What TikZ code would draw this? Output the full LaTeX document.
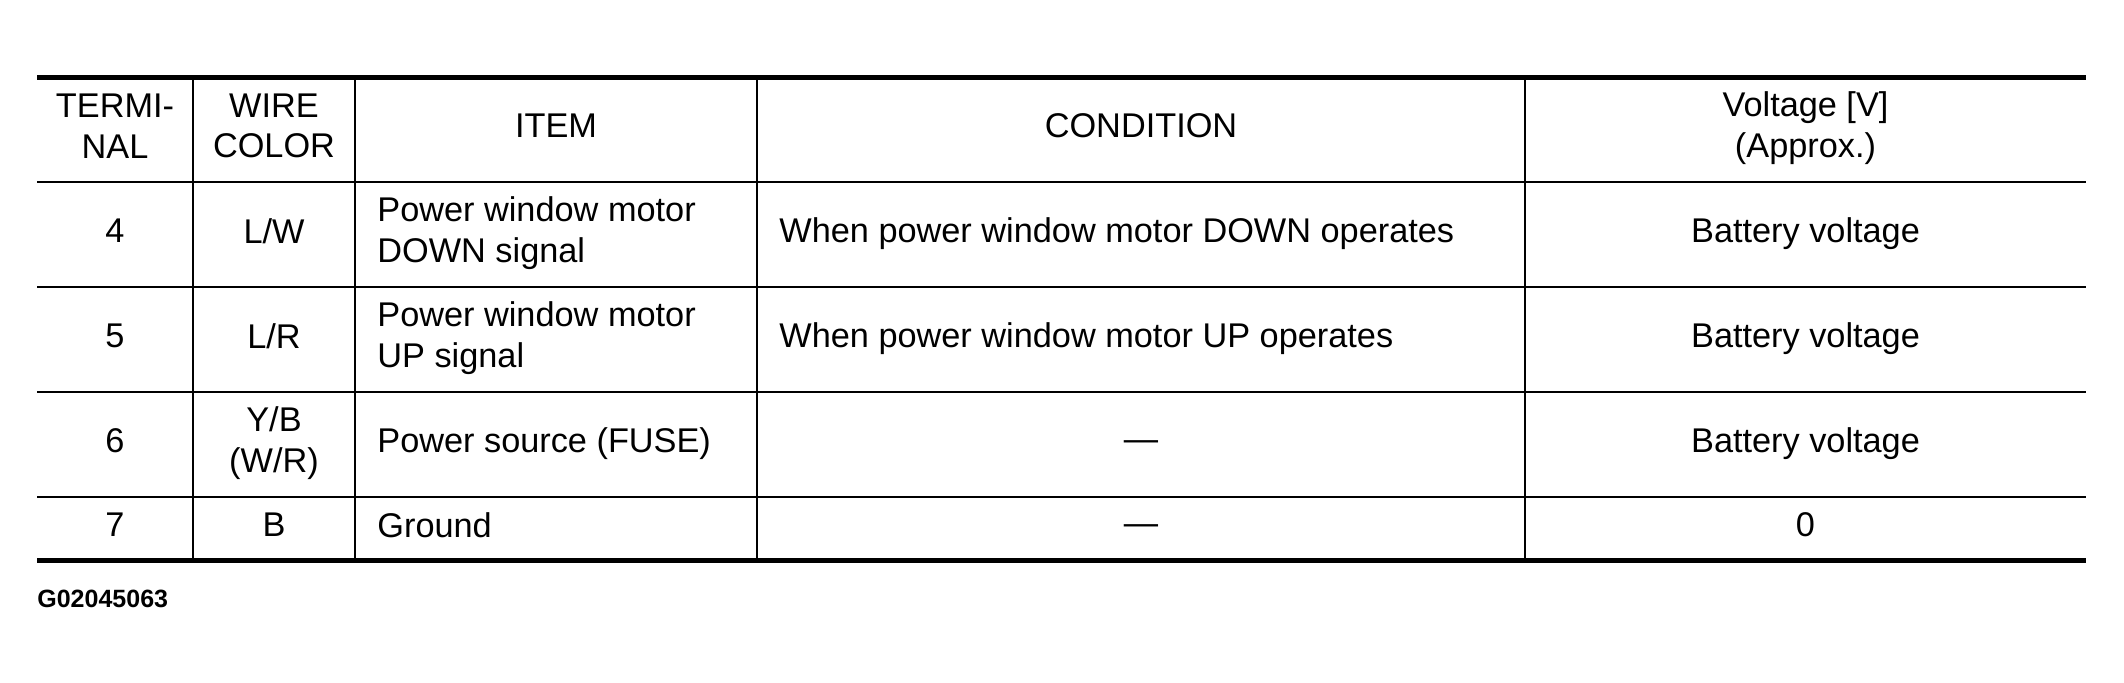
\documentclass[tikz,border=0pt]{standalone}
\usepackage{fontspec}
\setmainfont{Liberation Sans}
\newcommand{\cellfont}{\fontsize{17.15pt}{20.3pt}\selectfont}
\newcommand{\codefont}{\fontsize{12.5pt}{15pt}\selectfont\bfseries}
\begin{document}
\begin{tikzpicture}[x=0.5pt,y=-0.5pt,line join=round,
	cell/.style={inner sep=0pt,align=center,font=\cellfont},
	lcell/.style={inner sep=0pt,align=left,anchor=west,font=\cellfont},
	thickrule/.style={line width=2.5pt},
	thinrule/.style={line width=1pt}]
	\useasboundingbox (0,0) rectangle (2124,683);
	%Khung bảng
	\draw[thickrule] (37,78)--(2086,78);
	\draw[thickrule] (37,560.5)--(2086,560.5);
	\foreach \y in {182.5,287.5,392.5,497.5}
	\draw[thinrule] (37,\y)--(2086,\y);
	\foreach \x in {193,355,757,1525}
	\draw[thinrule] (\x,78)--(\x,560.5);
	%Tiêu đề
	\node[cell] (hTerm) at (115,126) {TERMI-\\NAL};
	\node[cell] (hWire) at (274,126) {WIRE\\COLOR};
	\node[cell] (hItem) at (556,126) {ITEM};
	\node[cell] (hCond) at (1141,126) {CONDITION};
	\node[cell] (hVolt) at (1805.5,128) {Voltage [V]\\(Approx.)};
	%Cột 4
	\node[cell] (t4) at (115,231) {4};
	\node[cell] (w4) at (274,231) {L/W};
	\node[lcell] (i4) at (377,233) {Power window motor\\DOWN signal};
	\node[lcell] (c4) at (779,234) {When power window motor DOWN operates};
	\node[cell] (v4) at (1805.5,234) {Battery voltage};
	%Cột 5
	\node[cell] (t5) at (115,336) {5};
	\node[cell] (w5) at (274,336) {L/R};
	\node[lcell] (i5) at (377,338) {Power window motor\\UP signal};
	\node[lcell] (c5) at (779,339) {When power window motor UP operates};
	\node[cell] (v5) at (1805.5,339) {Battery voltage};
	%Cột 6
	\node[cell] (t6) at (115,441) {6};
	\node[cell] (w6) at (274,443) {Y/B\\(W/R)};
	\node[lcell] (i6) at (377,444) {Power source (FUSE)};
	\node[cell] (c6) at (1141,446) {—};
	\node[cell] (v6) at (1805.5,444) {Battery voltage};
	%Cột 7
	\node[cell] (t7) at (115,525) {7};
	\node[cell] (w7) at (274,525) {B};
	\node[lcell] (i7) at (377,525) {Ground};
	\node[cell] (c7) at (1141,530) {—};
	\node[cell] (v7) at (1805.5,525) {0};
	%Mã hình
	\node[inner sep=0pt,anchor=base west,font=\codefont] (code) at (37,607) {G02045063};
\end{tikzpicture}
\end{document}
